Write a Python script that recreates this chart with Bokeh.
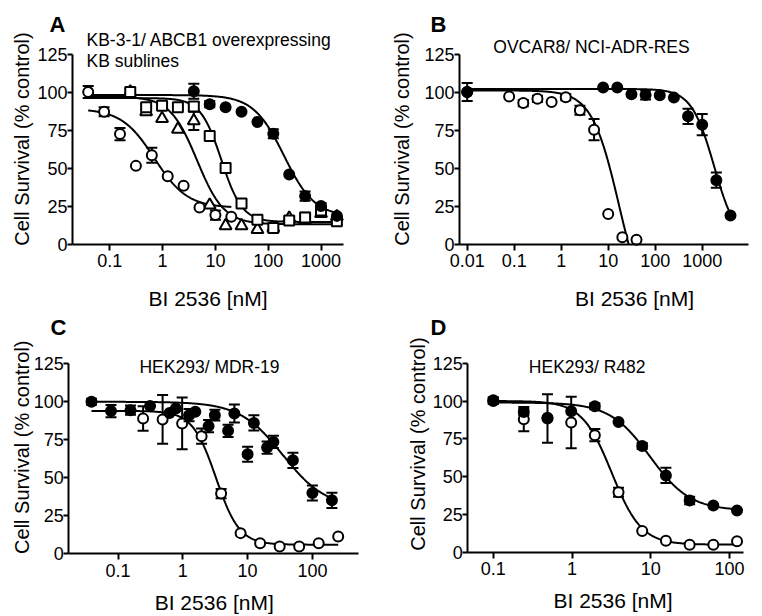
import math
import numpy as np
from bokeh.plotting import figure
from bokeh.layouts import column, row
from bokeh.models import FixedTicker, Label, Range1d
from bokeh.embed import file_html
from bokeh.resources import INLINE

FONT = "Liberation Sans"

# ---------------- data ----------------
# Panel A: KB-3-1 / ABCB1 overexpressing KB sublines
a_circ_x = [0.039, 0.078, 0.156, 0.3125, 0.625, 1.25, 2.5, 5, 10, 20]
a_circ_y = [100, 87, 72.3, 51.4, 58.4, 44.6, 38.3, 24, 19, 17.9]
a_circ_e = [4, 3, 4, 0, 5, 0, 0, 0, 3, 0]
a_tri_x = [0.244, 0.488, 0.977, 1.95, 3.9, 7.8, 15.6, 31.25, 62.5, 125, 250, 500, 1000, 2000]
a_tri_y = [100, 87, 82.5, 75.5, 81, 25.6, 12, 12, 9.5, 10.5, 17, 16, 20, 18]
a_tri_e = [0, 0, 0, 0, 6, 0, 0, 0, 0, 0, 0, 0, 0, 0]
a_sq_x = [0.244, 0.488, 0.977, 1.95, 3.9, 7.8, 15.6, 31.25, 62.5, 125, 250, 500, 1000, 2000]
a_sq_y = [100, 90, 91, 90, 90.5, 71, 50, 26.7, 16, 10.5, 15.5, 17.5, 22, 15]
a_sq_e = [2, 2, 0, 0, 3, 0, 3, 0, 0, 0, 0, 3, 2, 2]
a_fill_x = [3.9, 7.8, 15.6, 31.25, 62.5, 125, 250, 500, 1000, 2000]
a_fill_y = [100.5, 92, 90, 87, 80.3, 72.5, 45.8, 31.5, 25, 18.5]
a_fill_e = [5, 2, 0, 0, 0, 3, 0, 3, 2, 0]
# fitted 4PL parameters: top, bottom, IC50, hill, x from, x to
a_circ_fit = [89, 23.8, 0.7, 1.4, 0.039, 20]
a_tri_fit = [97, 13, 4.5, 1.7, 0.039, 2000]
a_sq_fit = [96, 14.5, 13, 2.2, 0.039, 2000]
a_fill_fit = [98, 18, 200, 1.5, 0.039, 2000]

# Panel B: OVCAR8 / NCI-ADR-RES
b_open_x = [0.01, 0.078, 0.156, 0.3125, 0.625, 1.25, 2.5, 5, 10, 20, 40]
b_open_y = [100, 97, 92.7, 95.5, 93.4, 96.5, 88, 75.2, 19.8, 4.4, 2.8]
b_open_e = [0, 0, 2, 2, 0, 2, 3, 7, 0, 0, 0]
b_fill_x = [0.01, 7.8, 15.6, 31.25, 62.5, 125, 250, 500, 1000, 2000, 4000]
b_fill_y = [100, 103, 103, 98.5, 98, 97.8, 96.3, 84, 78.5, 42, 18.8]
b_fill_e = [6, 0, 0, 0, 3, 0, 0, 5, 7, 5, 0]
b_open_fit = [101, -50, 17, 1.5, 0.01, 40]
b_fill_fit = [102, 0, 1800, 1.8, 0.01, 4000]

# Panel C: HEK293 / MDR-19
c_fill_x = [0.039, 0.078, 0.156, 0.3125, 0.625, 0.78, 1.25, 1.56, 2.5, 3.125,
            5, 6.25, 10, 12.5, 20, 25, 50, 100, 200]
c_fill_y = [100, 93.9, 94.5, 97.2, 92.7, 95.6, 91.2, 93.4, 84, 91.2,
            80.9, 92.3, 65.5, 86.1, 69.9, 73.6, 61.5, 40, 35.2]
c_fill_e = [2, 4, 3, 0, 0, 0, 4, 0, 4, 3.5, 4, 6, 5, 5, 4, 4, 5, 5, 5]
c_open_x = [0.244, 0.488, 0.977, 1.95, 3.9, 7.8, 15.6, 31.25, 62.5, 125, 250]
c_open_y = [89, 88.4, 85.8, 77.4, 39.6, 13.6, 7, 4.8, 4.8, 7, 11.4]
c_open_e = [8, 16, 17, 5, 3, 0, 0, 0, 0, 0, 0]
c_fill_fit = [100, 30, 35, 1.3, 0.039, 200]
c_open_fit = [94, 6, 3.25, 2.4, 0.039, 250]

# Panel D: HEK293 / R482
d_x = [0.1, 0.244, 0.488, 0.977, 1.95, 3.9, 7.8, 15.6, 31.25, 62.5, 125]
d_fill_y = [100.5, 92.7, 89, 93.2, 96.5, 86.1, 70.2, 50.8, 34.2, 30.9, 27.6]
d_fill_e = [2, 2, 0, 0, 2, 0, 2, 5, 2.5, 0, 0]
d_open_y = [100, 88, 88.4, 85.8, 77.4, 39.6, 14, 7.5, 5, 5, 7.3]
d_open_e = [2, 8, 16, 17, 4, 3, 0, 0, 0, 0, 0]
d_fill_fit = [99, 27.5, 9.8, 1.7, 0.1, 125]
d_open_fit = [100, 5, 3.2, 2.3, 0.1, 125]

y_ticks = [0, 25, 50, 75, 100, 125]
x_label = "BI 2536 [nM]"
y_label = "Cell Survival (% control)"


def fit_curve(par):
    top, bot, ic, h, x0, x1 = par
    if bot < 0:  # stop where the fitted curve meets the x axis
        x1 = min(x1, ic * ((top - bot) / (0 - bot) - 1) ** (1.0 / h))
    xs = np.logspace(math.log10(x0), math.log10(x1), 300)
    ys = bot + (top - bot) / (1.0 + (xs / ic) ** h)
    return xs, ys


class Panel:
    """A figure whose frame fills its whole canvas; axes are placed inside it."""

    def __init__(self, fx, fy, w, h, xref_px, xref_log, ppd, y0_px, y125_px, ax_l, ax_r, xticks):
        self.fx, self.fy, self.xref_px, self.xref_log, self.ppd = fx, fy, xref_px, xref_log, ppd
        self.y0_px, self.y125_px = y0_px, y125_px
        xlo = self.xdata(fx)
        xhi = self.xdata(fx + w)
        ylo = self.ydata(fy + h)
        yhi = self.ydata(fy)
        p = figure(width=w, height=h, x_axis_type="log", output_backend="svg",
                   toolbar_location=None, x_range=Range1d(xlo, xhi), y_range=Range1d(ylo, yhi),
                   min_border=0, min_border_left=0, min_border_right=0,
                   min_border_top=0, min_border_bottom=0)
        p.outline_line_color = None
        p.grid.visible = False
        p.background_fill_color = "white"
        p.border_fill_color = "white"
        ax_lo, ax_hi = self.xdata(ax_l), self.xdata(ax_r)
        p.xaxis.ticker = FixedTicker(ticks=xticks)
        p.xaxis.major_label_overrides = {t: ("%g" % t) for t in xticks}
        p.xaxis.bounds = (ax_lo, ax_hi)
        p.xaxis.fixed_location = 0
        p.yaxis.ticker = FixedTicker(ticks=y_ticks)
        p.yaxis.bounds = (0, 125)
        p.yaxis.fixed_location = ax_lo
        for ax in (p.xaxis[0], p.yaxis[0]):
            ax.axis_line_width = 2
            ax.axis_line_color = "black"
            ax.major_tick_line_width = 2
            ax.major_tick_line_color = "black"
            ax.minor_tick_line_color = None
            ax.major_tick_in = 0
            ax.major_label_text_font = FONT
            ax.major_label_text_font_size = "18px"
            ax.major_label_text_color = "black"
        p.xaxis.major_tick_out = 6
        p.xaxis.major_label_standoff = 4
        p.yaxis.major_tick_out = 5
        p.yaxis.major_label_standoff = 0
        self.p = p

    def xdata(self, px):
        return 10 ** (self.xref_log + (px - self.xref_px) / self.ppd)

    def ydata(self, py):
        return (self.y0_px - py) * 125.0 / (self.y0_px - self.y125_px)

    def text(self, px, py, text, size, align="left", bold=False, angle=0.0):
        self.p.add_layout(Label(x=self.xdata(px), y=self.ydata(py), text=text,
                                text_font=FONT, text_font_size=size, text_align=align,
                                text_baseline="alphabetic", angle=angle,
                                text_font_style="bold" if bold else "normal",
                                text_color="black"))

    def fit(self, par):
        xs, ys = fit_curve(par)
        self.p.line(xs, ys, line_color="black", line_width=2)

    def series(self, xs, ys, es, marker, fill, size):
        p = self.p
        ex = [x for x, e in zip(xs, es) if e > 0]
        ey = [y for y, e in zip(ys, es) if e > 0]
        ee = [e for e in es if e > 0]
        if ex:
            lo = [y - e for y, e in zip(ey, ee)]
            hi = [y + e for y, e in zip(ey, ee)]
            p.segment(x0=ex, y0=lo, x1=ex, y1=hi, line_color="black", line_width=2)
            p.scatter(ex + ex, lo + hi, marker="dash", size=11, line_color="black",
                      line_width=2)
        p.scatter(xs, ys, marker=marker, size=size, fill_color=fill, line_color="black",
                  line_width=2)


ROW1 = 310

# ---------------- panel A ----------------
A = Panel(0, 0, 380, ROW1, 109.3, -1, 52.8, 243.5, 53.5, 72, 343, [0.1, 1, 10, 100, 1000])
for par in (a_tri_fit, a_sq_fit, a_fill_fit, a_circ_fit):
    A.fit(par)
A.series(a_tri_x, a_tri_y, a_tri_e, "triangle", "white", 12)
A.series(a_sq_x, a_sq_y, a_sq_e, "square", "white", 10)
A.series(a_circ_x, a_circ_y, a_circ_e, "circle", "white", 10)
A.series(a_fill_x, a_fill_y, a_fill_e, "circle", "black", 10)
A.text(49, 23.5, "A", "22px", bold=True)
A.text(86, 39.5, "KB-3-1/ ABCB1 overexpressing", "17.5px")
A.text(86, 60, "KB sublines", "17.5px")
A.text(207.5, 298, x_label, "21px", align="center")
A.text(21, 138.5, y_label, "20px", align="center", angle=math.pi / 2)

# ---------------- panel B ----------------
B = Panel(380, 0, 382, ROW1, 466.7, -2, 47.0, 243.5, 53.5, 459, 748,
          [0.01, 0.1, 1, 10, 100, 1000])
B.fit(b_fill_fit)
B.fit(b_open_fit)
B.series(b_open_x, b_open_y, b_open_e, "circle", "white", 10)
B.series(b_fill_x, b_fill_y, b_fill_e, "circle", "black", 10)
B.text(430, 23.5, "B", "22px", bold=True)
B.text(591, 46.7, "OVCAR8/ NCI-ADR-RES", "17.5px", align="center")
B.text(634, 298, x_label, "21px", align="center")
B.text(401, 138.5, y_label, "20px", align="center", angle=math.pi / 2)

# ---------------- panel C ----------------
C = Panel(0, ROW1, 380, 616 - ROW1, 182.3, 0, 64.8, 553.3, 363.3, 68.3, 358.3,
          [0.1, 1, 10, 100])
C.fit(c_fill_fit)
C.fit(c_open_fit)
C.series(c_open_x, c_open_y, c_open_e, "circle", "white", 10)
C.series(c_fill_x, c_fill_y, c_fill_e, "circle", "black", 10)
C.text(50, 326.5, "C", "22px", bold=True)
C.text(209, 366.7, "HEK293/ MDR-19", "17.5px", align="center")
C.text(213.7, 601.5, x_label, "21px", align="center")
C.text(21, 446.7, y_label, "20px", align="center", angle=math.pi / 2)

# ---------------- panel D ----------------
D = Panel(380, ROW1, 382, 616 - ROW1, 571.5, 0, 78.7, 551.7, 362.7, 467.3, 743.3,
          [0.1, 1, 10, 100])
D.fit(d_fill_fit)
D.fit(d_open_fit)
D.series(d_x, d_open_y, d_open_e, "circle", "white", 10)
D.series(d_x, d_fill_y, d_fill_e, "circle", "black", 10)
D.text(430, 326.5, "D", "22px", bold=True)
D.text(586.7, 366, "HEK293/ R482", "17.5px", align="center")
D.text(612.5, 600, x_label, "21px", align="center")
D.text(417.5, 443.5, y_label, "20px", align="center", angle=math.pi / 2)

layout = column(row(A.p, B.p), row(C.p, D.p))
open("out.html", "w").write(file_html(layout, INLINE))
